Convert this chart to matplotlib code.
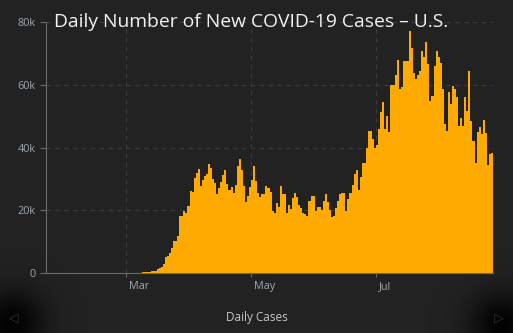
import numpy as np
import pandas as pd
import matplotlib
matplotlib.use("Agg")
import matplotlib.pyplot as plt
import matplotlib.dates as mdates
from matplotlib.transforms import ScaledTranslation

# ---- data (daily new cases) ----
start_date = "2020-01-22"
jan_cases = [1, 0, 1, 0, 3, 0, 0, 1, 0, 2]
feb_cases = [1, 0, 3, 0, 0, 1, 0, 0, 0, 0, 1, 0, 0, 0, 0, 0, 0, 0, 0, 14,
             0, 0, 0, 0, 0, 0, 18, 6, 9]
mar_cases = [10, 25, 22, 35, 70, 55, 130, 120, 180, 300, 380, 420, 500, 620,
             680, 1400, 1700, 2000, 2900, 5100, 5400, 6300, 8100, 10200,
             10300, 11800, 18200, 18300, 19800, 19200, 21400]
apr_cases = [26100, 25900, 30300, 31900, 33100, 27800, 29600, 31000, 31500,
             34700, 33500, 30000, 28700, 25300, 27100, 29000, 31200, 32800,
             28400, 26500, 27400, 25500, 28100, 34100, 36300, 32800, 27800,
             22600, 24500, 27400]
may_cases = [29600, 34100, 29300, 25500, 24200, 25200, 25200, 27700, 27100,
             25800, 19800, 19100, 22300, 21000, 27700, 25200, 25200, 19100,
             21700, 20400, 23900, 25500, 24200, 21700, 20700, 19100, 18800,
             18200, 22900, 24500, 24500]
jun_cases = [19800, 21000, 21000, 20200, 22900, 25200, 22600, 20000, 17800,
             18200, 20800, 22900, 25200, 25500, 25500, 19900, 23600, 25500,
             28000, 31500, 32800, 26500, 30700, 35100, 35100, 39800, 45300,
             45300, 42700, 39800]
jul_cases = [40800, 45900, 51300, 54500, 45900, 50000, 44900, 59900, 59900,
             63100, 67900, 58600, 59300, 67600, 67600, 67600, 77100, 71700,
             63800, 61800, 63000, 64500, 70800, 69000, 73600, 66700, 54900,
             56400, 66000, 70800, 69000]
aug_cases = [67000, 58600, 47500, 45400, 57700, 54000, 59600, 58600, 56100,
             47000, 49400, 46900, 56100, 51600, 64400, 48400, 42100, 35100,
             44900, 46500, 44300, 48800, 44600, 34400, 37900, 38200]

daily_cases = (jan_cases + feb_cases + mar_cases + apr_cases + may_cases +
               jun_cases + jul_cases + aug_cases)
dates = pd.date_range(start_date, periods=len(daily_cases), freq="D")

x_tick_dates = ["2020-03-01", "2020-05-01", "2020-07-01"]
x_tick_labels = ["Mar", "May", "Jul"]
y_ticks = [0, 20000, 40000, 60000, 80000]
y_tick_labels = ["0", "20k", "40k", "60k", "80k"]

title_text = "Daily Number of New COVID-19 Cases \u2013 U.S."
x_label = "Daily Cases"

# ---- style ----
BG = "#222222"
BAR = "#FFAA00"
GRID = "#3c3c3c"
AXIS = "#6a6a6a"
TICKTXT = "#9ea7b2"

plt.rcParams["font.family"] = ["Open Sans", "DejaVu Sans"]

W, H = 513, 333
fig = plt.figure(figsize=(W / 100, H / 100), dpi=100, facecolor=BG)

# background with dark corner vignettes
bg_ax = fig.add_axes([0, 0, 1, 1], zorder=-5)
yy, xx = np.mgrid[0:H, 0:W]
alpha = np.zeros((H, W))
for cx, cy in [(12, 322), (502, 324)]:
    r = np.hypot(xx - cx, yy - cy)
    alpha = np.maximum(alpha, 0.95 * np.exp(-(r / 32.0) ** 2))
img = np.zeros((H, W, 4))
img[..., 3] = alpha
bg_ax.set_facecolor(BG)
bg_ax.imshow(img, extent=(0, W, H, 0), interpolation="bilinear", aspect="auto")
bg_ax.set_xlim(0, W)
bg_ax.set_ylim(H, 0)
bg_ax.axis("off")
bg_ax.text(14, 318, "\u25c1", color="#333333", fontsize=9, ha="center",
           va="center", family="DejaVu Sans")
bg_ax.text(499, 318, "\u25b7", color="#333333", fontsize=9, ha="center",
           va="center", family="DejaVu Sans")

left, right = 46 / W, 493 / W
bottom, top = (H - 273) / H, (H - 22) / H
ax = fig.add_axes([left, bottom, right - left, top - bottom])
ax.set_facecolor("none")

ax.bar(dates, daily_cases, width=1.0, align="edge", color=BAR,
       linewidth=0, zorder=2)

ax.set_xlim(dates[0], dates[-1] + pd.Timedelta(days=1))
ax.set_ylim(0, 80000)

ax.set_yticks(y_ticks)
ax.set_yticklabels(y_tick_labels)
ax.set_xticks(pd.to_datetime(x_tick_dates))
ax.set_xticklabels(x_tick_labels)

ax.tick_params(axis="y", colors=AXIS, labelcolor=TICKTXT, labelsize=7.8,
               length=4.5, width=0.8, pad=3)
ax.tick_params(axis="x", colors=AXIS, labelcolor=TICKTXT, labelsize=7.8,
               length=3, width=0.8, pad=3)
offset = ScaledTranslation(3 / 100, 0, fig.dpi_scale_trans)
for lab in ax.get_xticklabels():
    lab.set_horizontalalignment("left")
    lab.set_transform(lab.get_transform() + offset)

ax.grid(True, color=GRID, linestyle=(0, (4, 4)), linewidth=0.8, zorder=0)
ax.set_axisbelow(True)
for s in ["top", "right"]:
    ax.spines[s].set_visible(False)
for s in ["left", "bottom"]:
    ax.spines[s].set_color(AXIS)
    ax.spines[s].set_linewidth(0.8)

fig.text(54 / W, 1 - 27 / H, title_text, color="#f2f2f2", fontsize=13.9,
         ha="left", va="baseline")
fig.text(257 / W, 1 - 317 / H, x_label, color="#c4c8cc", fontsize=8.5,
         ha="center", va="center")

fig.savefig("out.png", dpi=100, facecolor=BG)
